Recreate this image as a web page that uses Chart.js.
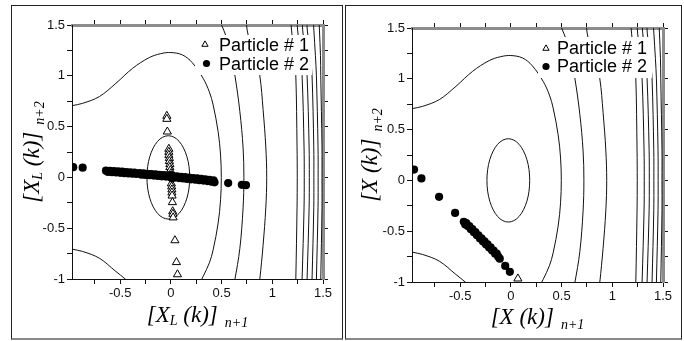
<!DOCTYPE html>
<html>
<head>
<meta charset="utf-8">
<script src="https://cdn.jsdelivr.net/npm/chart.js@4.4.1/dist/chart.umd.min.js"></script>
<style>
    html, body { margin: 0; padding: 0; background: #fff; }
    body { width: 684px; height: 341px; position: relative; overflow: hidden; }
    .panel { position: absolute; box-sizing: border-box; border: 1px solid #222; border-bottom: 2px solid #8a8a8a; }
    #p1 { left: 11px; top: 5px; width: 332px; height: 335px; }
    #p2 { left: 345px; top: 5px; width: 337px; height: 335px; }
    canvas { position: absolute; left: 0; top: 0; }
</style>
</head>
<body>
<div class="panel" id="p1"><canvas id="c1" width="330" height="332"></canvas></div>
<div class="panel" id="p2"><canvas id="c2" width="335" height="332"></canvas></div>
<script>
// ── Data ─────────────────────────────────────────────────────────────────────

const xRange = [-0.975, 1.5];
const yRange = [-1, 1.5];
const xTicks = [-0.75, -0.5, -0.25, 0, 0.25, 0.5, 0.75, 1, 1.25, 1.5];
const yTicks = [-1, -0.75, -0.5, -0.25, 0, 0.25, 0.5, 0.75, 1, 1.25, 1.5];
const seriesNames = ['Particle # 1', 'Particle # 2'];

// level curves (same in both panels)
const contourInner = [
    [0.186, 0], [0.179, 0.106], [0.158, 0.205], [0.124, 0.290], [0.081, 0.355], [0.030, 0.396],
    [-0.025, 0.41], [-0.080, 0.396], [-0.131, 0.355], [-0.174, 0.290], [-0.208, 0.205], [-0.229, 0.106],
    [-0.236, 0], [-0.229, -0.106], [-0.208, -0.205], [-0.174, -0.290], [-0.131, -0.355], [-0.080, -0.396],
    [-0.025, -0.41], [0.030, -0.396], [0.081, -0.355], [0.124, -0.290], [0.158, -0.205], [0.179, -0.106],
    [0.186, 0]
];
const contourSecond = [
    [-1.0, 0.70], [-0.975, 0.706], [-0.87, 0.729], [-0.706, 0.795], [-0.542, 0.926], [-0.377, 1.074],
    [-0.214, 1.179], [-0.1, 1.218], [0, 1.229], [0.115, 1.205], [0.21, 1.13], [0.318, 0.975],
    [0.38, 0.84], [0.417, 0.712], [0.466, 0.45], [0.49, 0.22], [0.497, 0], [0.49, -0.22],
    [0.466, -0.45], [0.417, -0.712], [0.38, -0.84], [0.318, -0.975], [0.29, -1.03]
];
const contourSecondLow = [
    [-1.0, -0.70], [-0.975, -0.706], [-0.87, -0.729], [-0.706, -0.795], [-0.542, -0.926], [-0.45, -1.0], [-0.42, -1.03]
];
const contourThird = [
    [0.49, 1.53], [0.50, 1.5], [0.54, 1.40], [0.59, 1.2], [0.63, 1.01], [0.68, 0.65], [0.712, 0.29],
    [0.72, 0], [0.712, -0.3], [0.68, -0.7], [0.63, -1.01], [0.62, -1.03]
];
const contourFourth = [
    [0.744, 1.53], [0.746, 1.5], [0.762, 1.40], [0.83, 1.2], [0.877, 1.0], [0.909, 0.67], [0.936, 0.3],
    [0.945, 0], [0.936, -0.3], [0.909, -0.67], [0.877, -1.0], [0.87, -1.03]
];
const contourSteep1 = [[1.183, 1.53], [1.19, 1.45], [1.215, 1.2], [1.232, 1.0], [1.244, 0.3], [1.246, 0], [1.244, -0.3], [1.232, -1.0], [1.23, -1.03]];
const contourSteep2 = [[1.243, 1.53], [1.25, 1.45], [1.275, 1.2], [1.294, 1.0], [1.313, 0.3], [1.315, 0], [1.313, -0.3], [1.294, -1.0], [1.292, -1.03]];
const contourSteep3 = [[1.296, 1.53], [1.30, 1.45], [1.325, 1.2], [1.343, 1.0], [1.363, 0.3], [1.365, 0], [1.363, -0.3], [1.343, -1.0], [1.341, -1.03]];
const contourSteep4 = [[1.341, 1.53], [1.345, 1.45], [1.375, 1.2], [1.392, 1.0], [1.409, 0.3], [1.41, 0], [1.409, -0.3], [1.392, -1.0], [1.39, -1.03]];
const contourSteep5 = [[1.405, 1.53], [1.41, 1.45], [1.425, 1.2], [1.435, 1.0], [1.451, 0.3], [1.452, 0], [1.451, -0.3], [1.435, -1.0], [1.434, -1.03]];
const contourSteep6 = [[1.462, 1.53], [1.465, 1.45], [1.475, 1.2], [1.478, 1.0], [1.49, 0.3], [1.49, 0], [1.49, -0.3], [1.478, -1.0], [1.477, -1.03]];

const contours = [
    contourInner, contourSecond, contourSecondLow, contourThird, contourFourth,
    contourSteep1, contourSteep2, contourSteep3, contourSteep4, contourSteep5, contourSteep6
];

// left panel: [X_L(k)]
const leftParticle1 = [
    [-0.04, 0.605], [-0.04, 0.575], [-0.035, 0.45], [-0.02, 0.28], [-0.02, 0.25], [-0.02, 0.22],
    [-0.015, 0.19], [-0.015, 0.16], [-0.01, 0.13], [-0.01, 0.10], [-0.005, 0.07], [0, 0.04],
    [0.005, -0.06], [0.008, -0.09], [0.01, -0.12], [0.01, -0.15], [0.012, -0.18], [0.015, -0.245],
    [0.018, -0.335], [0.02, -0.36], [0.022, -0.395], [0.04, -0.62], [0.055, -0.835], [0.065, -0.955]
];
const leftParticle2 = [
    [-0.963, 0.101], [-0.87, 0.096],
    [-0.64, 0.066], [-0.62, 0.054], [-0.60, 0.065], [-0.58, 0.051], [-0.56, 0.062], [-0.54, 0.048],
    [-0.52, 0.059], [-0.50, 0.045], [-0.48, 0.056], [-0.46, 0.042], [-0.44, 0.053], [-0.42, 0.039],
    [-0.40, 0.050], [-0.38, 0.037], [-0.36, 0.047], [-0.34, 0.034],
    [-0.31, 0.042], [-0.29, 0.027], [-0.27, 0.039], [-0.25, 0.024], [-0.23, 0.036], [-0.21, 0.021],
    [-0.19, 0.033], [-0.17, 0.018], [-0.15, 0.030], [-0.13, 0.015], [-0.11, 0.026], [-0.09, 0.011],
    [-0.07, 0.023], [-0.05, 0.008], [-0.03, 0.020], [-0.01, 0.004], [0.00, 0.022], [0.01, -0.008],
    [0.02, 0.014], [0.04, -0.002], [0.06, 0.010], [0.08, -0.007], [0.10, 0.006], [0.12, -0.011],
    [0.14, 0.002], [0.16, -0.015], [0.18, -0.002], [0.20, -0.019], [0.22, -0.006], [0.24, -0.023],
    [0.26, -0.010], [0.28, -0.027], [0.30, -0.014], [0.32, -0.031], [0.34, -0.019], [0.36, -0.036],
    [0.38, -0.024], [0.40, -0.042], [0.42, -0.030], [0.43, -0.048],
    [0.565, -0.056], [0.70, -0.073], [0.74, -0.077]
];

// right panel: [X(k)]
const rightParticle1 = [[0.069, -0.967]];
const rightParticle2 = [
    [-0.955, 0.107], [-0.882, 0.019], [-0.708, -0.162], [-0.55, -0.32],
    [-0.464, -0.408], [-0.45, -0.433], [-0.44, -0.420], [-0.425, -0.450], [-0.41, -0.450], [-0.395, -0.481],
    [-0.38, -0.480], [-0.365, -0.511], [-0.35, -0.510], [-0.335, -0.541], [-0.32, -0.540], [-0.305, -0.571],
    [-0.29, -0.570], [-0.275, -0.601], [-0.26, -0.600], [-0.245, -0.631], [-0.23, -0.630], [-0.215, -0.661],
    [-0.20, -0.660], [-0.185, -0.691], [-0.17, -0.690], [-0.155, -0.721], [-0.14, -0.720], [-0.125, -0.751],
    [-0.11, -0.77], [-0.056, -0.842], [-0.01, -0.90]
];

// ── Helpers ──────────────────────────────────────────────────────────────────

const SANS = '"Liberation Sans", Arial, sans-serif';
const SERIF = '"Liberation Serif", "Times New Roman", serif';

const toXY = arr => arr.map(p => ({ x: p[0], y: p[1] }));

function tickLabel(v) {
    return Math.abs(v % 0.5) < 1e-9 ? String(+v.toFixed(2)) : '';
}

function drawRich(ctx, parts, x, y) {
    // parts: [text, 'm'|'s', drop]  main / subscript, centred on x, baseline y
    const font = k => k === 'm' ? 'italic 23px ' + SERIF : 'italic 14px ' + SERIF;
    let w = 0;
    parts.forEach(p => { ctx.font = font(p[1]); w += ctx.measureText(p[0]).width; });
    let cx = x - w / 2;
    ctx.textAlign = 'left';
    ctx.textBaseline = 'alphabetic';
    parts.forEach(p => {
        ctx.font = font(p[1]);
        ctx.fillText(p[0], cx, y + (p[1] === 's' ? (p[2] || 4) : 0));
        cx += ctx.measureText(p[0]).width;
    });
}

const panelDecor = {
    id: 'panelDecor',
    afterDatasetsDraw(chart, args, o) {
        const ctx = chart.ctx;
        const L = o.legend;
        ctx.save();
        ctx.fillStyle = '#fff';
        ctx.fillRect(L.box[0], L.box[1], L.box[2], L.box[3]);
        // triangle marker
        const [tx, ty] = L.tri, r = 3.6;
        ctx.beginPath();
        ctx.moveTo(tx, ty - r);
        ctx.lineTo(tx + r * 0.87, ty + r * 0.5);
        ctx.lineTo(tx - r * 0.87, ty + r * 0.5);
        ctx.closePath();
        ctx.strokeStyle = '#000';
        ctx.lineWidth = 1;
        ctx.stroke();
        // dot marker
        ctx.beginPath();
        ctx.arc(L.dot[0], L.dot[1], 3.6, 0, Math.PI * 2);
        ctx.fillStyle = '#000';
        ctx.fill();
        ctx.font = '18px ' + SANS;
        ctx.textBaseline = 'middle';
        ctx.textAlign = 'left';
        ctx.fillText(seriesNames[0], L.textX, L.rows[0]);
        ctx.fillText(seriesNames[1], L.textX, L.rows[1]);
        ctx.restore();
    },
    afterDraw(chart, args, o) {
        const ctx = chart.ctx;
        const a = chart.chartArea;
        ctx.save();
        ctx.fillStyle = '#000';
        drawRich(ctx, o.xTitle, (a.left + a.right) / 2, o.xBase);
        ctx.translate(o.yBase, (a.top + a.bottom) / 2);
        ctx.rotate(-Math.PI / 2);
        drawRich(ctx, o.yTitle, 0, 0);
        ctx.restore();
    }
};

function axis(position, range, ticks, size, labels, edge) {
    const horizontal = position === 'bottom' || position === 'top';
    return {
        type: 'linear',
        position: position,
        min: range[0],
        max: range[1],
        afterBuildTicks: s => { s.ticks = ticks.map(v => ({ value: v })); },
        afterFit: s => { if (horizontal) s.height = size; else s.width = size; },
        grid: { drawOnChartArea: false, drawTicks: true, tickLength: 5, tickColor: '#111', lineWidth: 1 },
        border: { display: true, color: edge ? '#8c8c8c' : '#111', width: edge ? 3 : 1 },
        ticks: {
            display: labels,
            autoSkip: false,
            maxRotation: 0,
            padding: 2,
            color: '#111',
            font: { family: SANS, size: 13 },
            callback: v => tickLabel(v)
        }
    };
}

function buildPanel(canvasId, p1, p2, cfg) {
    const datasets = contours.map(c => ({
        data: toXY(c),
        showLine: true,
        pointRadius: 0,
        borderColor: '#111',
        borderWidth: 1,
        tension: 0.35,
        order: 3
    }));
    datasets.push({
        label: seriesNames[0],
        data: toXY(p1),
        pointStyle: 'triangle',
        pointRadius: 4.7,
        backgroundColor: '#fff',
        borderColor: '#000',
        borderWidth: 1,
        order: 2
    });
    datasets.push({
        label: seriesNames[1],
        data: toXY(p2),
        pointStyle: 'circle',
        pointRadius: 4.1,
        backgroundColor: '#000',
        borderColor: '#000',
        borderWidth: 0,
        order: 1
    });

    return new Chart(document.getElementById(canvasId), {
        type: 'scatter',
        data: { datasets },
        options: {
            responsive: false,
            animation: false,
            layout: { padding: 0 },
            scales: {
                x: axis('bottom', xRange, xTicks, cfg.area.bottom, true, false),
                x2: axis('top', xRange, xTicks, cfg.area.top, false, true),
                y: axis('left', yRange, yTicks, cfg.area.left, true, false),
                y2: axis('right', yRange, yTicks, cfg.area.right, false, true)
            },
            plugins: {
                legend: { display: false },
                tooltip: { enabled: false },
                panelDecor: cfg.decor
            }
        },
        plugins: [panelDecor]
    });
}

// ── Build ────────────────────────────────────────────────────────────────────

buildPanel('c1', leftParticle1, leftParticle2, {
    area: { left: 60, top: 19, right: 19, bottom: 59 },
    decor: {
        legend: { box: [183, 29, 117, 40], tri: [193, 38.5], dot: [194.5, 57.5], textX: 207, rows: [40, 59.5] },
        xTitle: [['[X', 'm'], ['L', 's', 3], [' (k)]', 'm'], ['  n+1', 's', 5]],
        yTitle: [['[X', 'm'], ['L', 's', 3], [' (k)]', 'm'], ['  n+2', 's', 5]],
        xBase: 316,
        yBase: 27
    }
});

buildPanel('c2', rightParticle1, rightParticle2, {
    area: { left: 66, top: 22, right: 18, bottom: 56 },
    decor: {
        legend: { box: [192, 31, 114, 41], tri: [200, 42.5], dot: [200, 60.5], textX: 211, rows: [43.5, 61.5] },
        xTitle: [['[X (k)]', 'm'], ['  n+1', 's', 5]],
        yTitle: [['[X (k)]', 'm'], ['  n+2', 's', 5]],
        xBase: 318,
        yBase: 31
    }
});
</script>
</body>
</html>
